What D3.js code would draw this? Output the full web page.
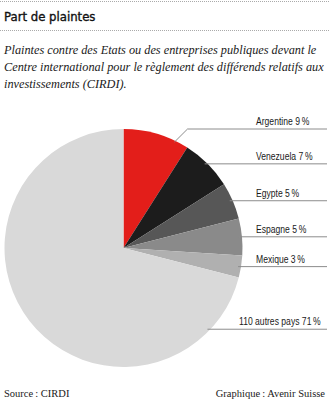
<!DOCTYPE html>
<html>
<head>
<meta charset="utf-8">
<script src="https://cdn.jsdelivr.net/npm/d3@7"></script>
<style>
  body { margin: 0; background: #fff; }
  svg { display: block; }
  .title { font-family: "DejaVu Sans Condensed", "DejaVu Sans", sans-serif; font-size: 13px; fill: #111; stroke: #111; stroke-width: 0.35px; }
  .sub { font-family: "Liberation Serif", serif; font-style: italic; font-size: 13.5px; fill: #1a1a1a; }
  .lbl { font-family: "Liberation Sans", "DejaVu Sans Condensed", sans-serif; font-size: 10px; fill: #1a1a1a; }
  .foot { font-family: "Liberation Serif", serif; font-size: 10.5px; fill: #1a1a1a; }
</style>
</head>
<body>
<svg id="chart" width="330" height="401"></svg>
<script>
const countries = ["Argentine", "Venezuela", "Egypte", "Espagne", "Mexique", "110 autres pays"];
const shares = [9, 7, 5, 5, 3, 71];
const sliceColors = ["#e31e1a", "#1c1c1c", "#575757", "#8a8a8a", "#b0b0b0", "#d9d9d9"];
const subtitleLines = [
  "Plaintes contre des Etats ou des entreprises publiques devant le",
  "Centre international pour le règlement des différends relatifs aux",
  "investissements (CIRDI)."
];

const svg = d3.select("#chart");
const width = 330;

// header
const dots = svg.append("g").attr("stroke", "#aaa").attr("stroke-dasharray", "1,1");
dots.append("line").attr("x1", 0).attr("x2", width).attr("y1", 1.5).attr("y2", 1.5);
dots.append("line").attr("x1", 0).attr("x2", width).attr("y1", 30.5).attr("y2", 30.5);

svg.append("text").attr("class", "title").attr("x", 4).attr("y", 21).text("Part de plaintes");

svg.selectAll(".sub").data(subtitleLines).enter().append("text")
  .attr("class", "sub")
  .attr("transform", (d, i) => `translate(4,${54 + i * 17}) scale(0.91,1)`)
  .text(d => d);

// pie
const cx = 123.5, cy = 248, r = 119;
const color = d3.scaleOrdinal().domain(countries).range(sliceColors);
const pie = d3.pie().sort(null).value(d => d.value);
const arcs = pie(countries.map((c, i) => ({name: c, value: shares[i]})));
const arc = d3.arc().innerRadius(0).outerRadius(r);

const g = svg.append("g").attr("transform", `translate(${cx},${cy})`);
g.selectAll("path").data(arcs).enter().append("path")
  .attr("d", arc)
  .attr("fill", d => color(d.data.name));

// labels with leader lines
const lineEnd = 327 - cx;
const textX = 256 - cx;
const last = arcs.length - 1;

arcs.forEach((d, i) => {
  let a = (d.startAngle + d.endAngle) / 2;
  let y = -r * Math.cos(a);
  let tx = textX;
  if (i === last) {
    a = d.startAngle + 0.5;
    y = -r * Math.cos(a);
    tx = 239 - cx;
  }
  const ly = Math.max(y, -r);
  const pts = [];
  if (i === 0) {
    const aa = d.startAngle + 0.8 * (d.endAngle - d.startAngle);
    const ax = r * Math.sin(aa), ay = -r * Math.cos(aa);
    pts.push([ax - 1, ay + 1], [ax + 12, -r], [lineEnd, -r]);
  } else {
    const ex = Math.sqrt(Math.max(0, r * r - ly * ly));
    pts.push([ex - 3, ly], [lineEnd, ly]);
  }
  g.append("path")
    .attr("d", d3.line()(pts))
    .attr("fill", "none")
    .attr("stroke", "#8c8c8c")
    .attr("stroke-width", 1);
  g.append("text")
    .attr("class", "lbl")
    .attr("transform", `translate(${tx},${(i === 0 ? -r : ly) - 4}) scale(0.86,1)`)
    .text(`${d.data.name} ${d.data.value}\u2009%`);
});

// footer
svg.append("text").attr("class", "foot").attr("x", 4).attr("y", 397).text("Source\u202f: CIRDI");
svg.append("text").attr("class", "foot").attr("x", 325).attr("y", 397)
  .attr("text-anchor", "end").text("Graphique\u202f: Avenir Suisse");
</script>
</body>
</html>
